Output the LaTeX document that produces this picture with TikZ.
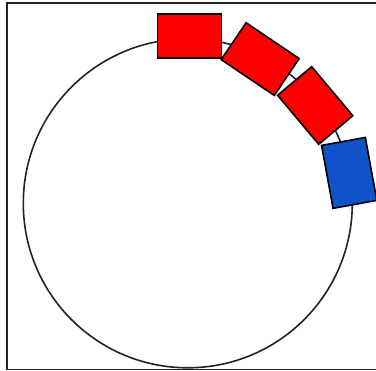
\documentclass[tikz,border=0pt]{standalone}
\definecolor{boxred}{RGB}{255,0,0}
\definecolor{boxblue}{RGB}{16,82,200}
\definecolor{linegray}{RGB}{35,35,35}
\tikzset{
  seat/.style={rectangle, draw=black, line width=1.6pt, inner sep=0pt,
               minimum width=64pt, minimum height=44.5pt},
  redseat/.style={seat, fill=boxred},
  blueseat/.style={seat, fill=boxblue},
}
\begin{document}
\begin{tikzpicture}[x=1pt,y=-1pt]
  \useasboundingbox (0,0) rectangle (376,371);
  \draw[linegray, line width=1.6pt] (7.3,3.3) rectangle (385,369.5);
  \coordinate (c) at (187.8,203.3);
  \draw[linegray, line width=1.6pt] (c) circle [radius=164.5pt];
  \node[redseat] (r1) at (189.5,36) {};
  \node[redseat, rotate=-34] (r2) at (260.2,59.1) {};
  \node[redseat, rotate=-50] (r3) at (315.2,105.5) {};
  \node[blueseat, rotate=-79.7] (b1) at (349.2,172.9) {};
\end{tikzpicture}
\end{document}
